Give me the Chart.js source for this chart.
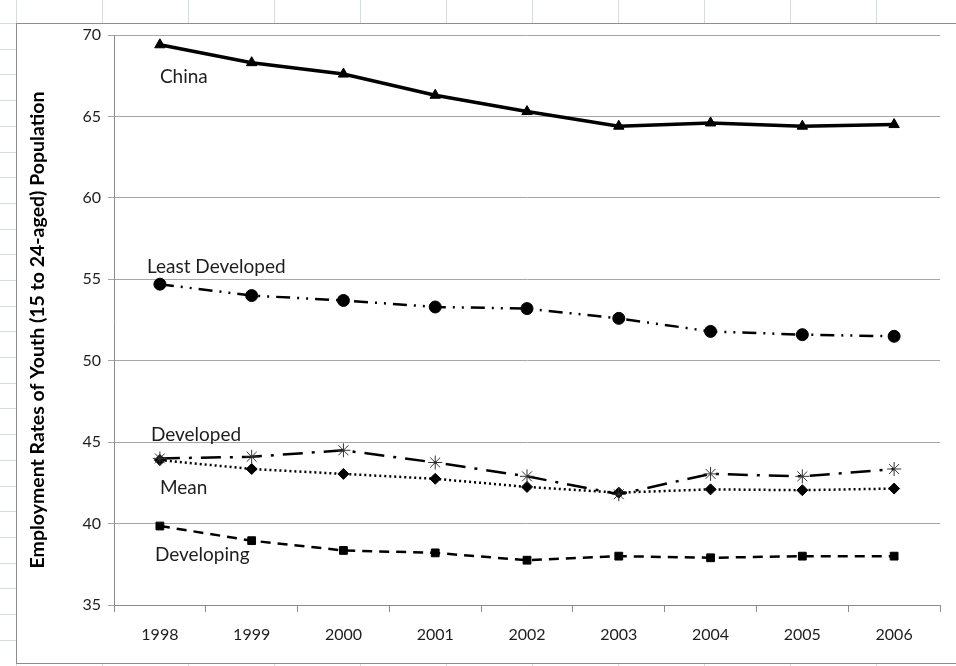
<!DOCTYPE html>
<html>
<head>
<meta charset="utf-8">
<script src="https://cdn.jsdelivr.net/npm/chart.js@4.4.0/dist/chart.umd.min.js"></script>
<style>
  html, body { margin: 0; padding: 0; background: #fff; }
  #wrap { width: 956px; height: 666px; }
</style>
</head>
<body>
<div id="wrap"><canvas id="chart" width="956" height="666"></canvas></div>
<script>
const years = ['1998', '1999', '2000', '2001', '2002', '2003', '2004', '2005', '2006'];
const china = [69.4, 68.3, 67.6, 66.3, 65.3, 64.4, 64.6, 64.4, 64.5];
const leastDeveloped = [54.7, 54.0, 53.7, 53.3, 53.2, 52.6, 51.8, 51.6, 51.5];
const developed = [44.0, 44.1, 44.5, 43.75, 42.9, 41.8, 43.05, 42.9, 43.35];
const meanRate = [43.9, 43.35, 43.05, 42.75, 42.25, 41.9, 42.1, 42.05, 42.15];
const developing = [39.85, 38.95, 38.35, 38.2, 37.75, 38.0, 37.9, 38.0, 38.0];
const yTicks = [35, 40, 45, 50, 55, 60, 65, 70];
const seriesNames = ['China', 'Least Developed', 'Developed', 'Mean', 'Developing'];
const yTitle = 'Employment Rates of Youth (15 to 24-aged) Population';

const FONT = 'Lato, "Open Sans", sans-serif';

// spreadsheet frame + row/column marks behind the chart, and the y title
const sheetPlugin = {
    id: 'sheet',
    beforeDraw(chart) {
        const c = chart.ctx;
        c.save();
        c.strokeStyle = '#d4dbe8'; c.lineWidth = 1;
        for (let x = 16; x < 956; x += 86) {
            c.beginPath(); c.moveTo(x + 0.5, 0); c.lineTo(x + 0.5, 23); c.stroke();
            c.beginPath(); c.moveTo(x + 0.5, 664); c.lineTo(x + 0.5, 666); c.stroke();
        }
        for (let y = 23; y < 666; y += 25.7) {
            c.beginPath(); c.moveTo(0, Math.round(y) + 0.5); c.lineTo(16, Math.round(y) + 0.5); c.stroke();
        }
        c.strokeStyle = '#8c8c8c';
        c.strokeRect(16.5, 23.5, 960, 640);
        // rotated axis title, sits a bit below the plot centre like the original
        c.translate(38, 330);
        c.rotate(-Math.PI / 2);
        c.font = 'bold 19.5px ' + FONT; c.fillStyle = '#000';
        c.textAlign = 'center'; c.textBaseline = 'middle';
        c.fillText(yTitle, 0, 0);
        c.restore();
    }
};

// series name labels next to the lines
const labelPlugin = {
    id: 'seriesLabels',
    afterDatasetsDraw(chart) {
        const c = chart.ctx, xs = chart.scales.x, ys = chart.scales.y;
        const x0 = xs.getPixelForValue(0);
        const spots = [[0, 67.4], [-13, 55.75], [-9, 45.45], [0, 42.2], [-5, 38.1]];
        c.save();
        c.font = '19px ' + FONT; c.fillStyle = '#1e1e1e';
        c.textBaseline = 'middle'; c.textAlign = 'left';
        seriesNames.forEach((name, i) => {
            c.fillText(name, x0 + spots[i][0], ys.getPixelForValue(spots[i][1]));
        });
        c.restore();
    }
};

function mk(label, data, style, dash, width, radius) {
    return {
        label: label, data: data,
        borderColor: '#000', backgroundColor: '#000',
        borderWidth: width, borderDash: dash,
        pointStyle: style, pointRadius: radius,
        pointBorderColor: style === 'star' ? '#333' : '#000', pointBackgroundColor: '#000',
        pointBorderWidth: 1,
        tension: 0
    };
}

new Chart(document.getElementById('chart'), {
    type: 'line',
    data: {
        labels: years,
        datasets: [
            mk('China', china, 'triangle', [], 3.5, 6),
            mk('Least Developed', leastDeveloped, 'circle', [14, 7, 2, 7, 2, 7], 2.5, 6),
            mk('Developed', developed, 'star', [20, 9, 3, 9], 2.5, 7),
            mk('Mean', meanRate, 'rectRot', [2, 3], 2.5, 5.5),
            mk('Developing', developing, 'rect', [10, 7], 2.5, 5.5)
        ]
    },
    options: {
        responsive: false, animation: false,
        layout: { padding: { left: 24, right: 16, top: 35, bottom: 0 } },
        plugins: { legend: { display: false }, tooltip: { enabled: false } },
        scales: {
            x: {
                offset: true,
                grid: { offset: true, drawOnChartArea: false, drawTicks: true, tickLength: 7, color: '#8c8c8c' },
                border: { color: '#8c8c8c' },
                ticks: { color: '#1e1e1e', font: { family: FONT, size: 16 }, padding: 13, maxRotation: 0 },
                afterFit(s) { s.height = 61; }
            },
            y: {
                min: 35, max: 70,
                afterBuildTicks(s) { s.ticks = yTicks.map(v => ({ value: v })); },
                grid: { color: '#a6a6a6', tickLength: 6 },
                border: { color: '#8c8c8c' },
                ticks: { color: '#1e1e1e', font: { family: FONT, size: 16 }, padding: 7 },
                afterFit(s) { s.width = 90; }
            }
        }
    },
    plugins: [sheetPlugin, labelPlugin]
});
</script>
</body>
</html>
